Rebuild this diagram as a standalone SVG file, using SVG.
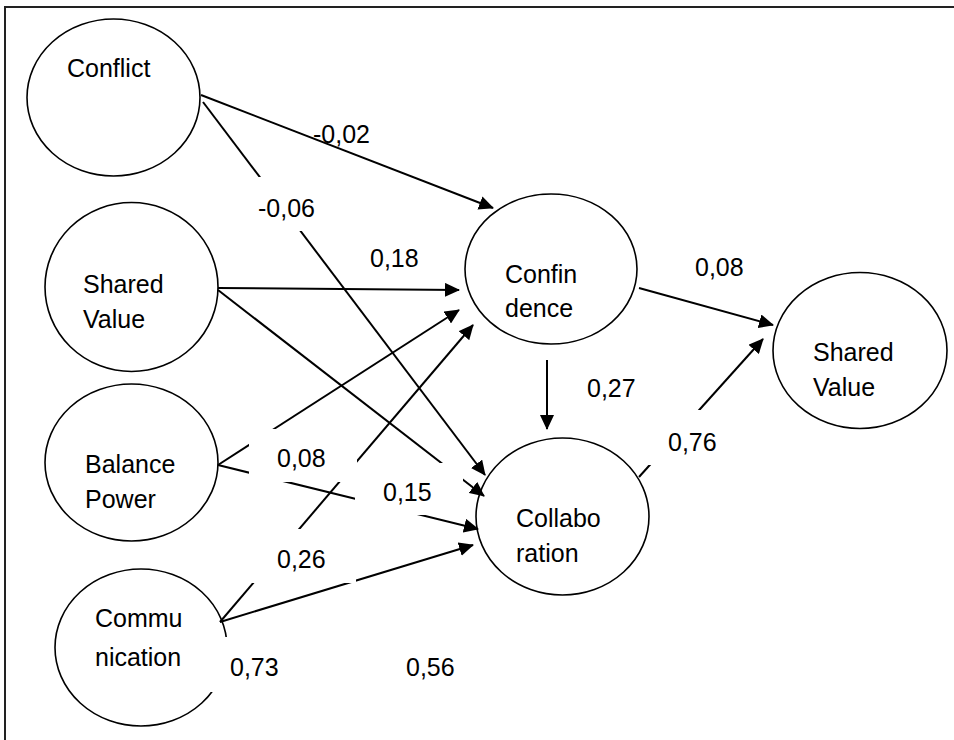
<svg xmlns="http://www.w3.org/2000/svg" width="954" height="740" viewBox="0 0 954 740">
<defs>
<marker id="ah" markerUnits="userSpaceOnUse" markerWidth="15" markerHeight="14" refX="14" refY="7" orient="auto">
<path d="M0,0 L15,7 L0,14 Z" fill="#000"/>
</marker>
<style>
.node{fill:#fff;stroke:#000;stroke-width:1.6}
.t{font-family:"Liberation Sans",Arial,sans-serif;font-size:25px;fill:#000}
.c{stroke:#000;stroke-width:2;fill:none;marker-end:url(#ah)}
.l{stroke:#000;stroke-width:2;fill:none}
.bx{fill:#fff;stroke:none}
</style>
</defs>
<rect x="5" y="7" width="1000" height="800" fill="#fff" stroke="#222" stroke-width="2"/>

<g id="node-conflict">
<ellipse class="node" cx="113.5" cy="97.5" rx="86.5" ry="78.5"/>
<text class="t" x="67" y="77">Conflict</text>
</g>
<g id="node-shared-value-left">
<ellipse class="node" cx="131.5" cy="287" rx="86.5" ry="84.5"/>
<text class="t" x="83" y="293">Shared</text>
<text class="t" x="83" y="328">Value</text>
</g>
<g id="node-balance-power">
<ellipse class="node" cx="131.5" cy="462.5" rx="86.5" ry="78.5"/>
<text class="t" x="85" y="473">Balance</text>
<text class="t" x="85" y="508">Power</text>
</g>
<g id="node-communication">
<ellipse class="node" cx="141" cy="647.5" rx="86" ry="78.5"/>
<text class="t" x="95" y="627">Commu</text>
<text class="t" x="95" y="666">nication</text>
</g>
<g id="node-confidence">
<ellipse class="node" cx="551" cy="269" rx="86" ry="75"/>
<text class="t" x="505" y="283">Confin</text>
<text class="t" x="505" y="317">dence</text>
</g>
<g id="node-collaboration">
<ellipse class="node" cx="562.5" cy="516.5" rx="86.5" ry="78.5"/>
<text class="t" x="516" y="527">Collabo</text>
<text class="t" x="516" y="562">ration</text>
</g>
<g id="node-shared-value-right">
<ellipse class="node" cx="860" cy="350.5" rx="87" ry="78"/>
<text class="t" x="813" y="361">Shared</text>
<text class="t" x="813" y="396">Value</text>
</g>

<g id="connectors">
<line class="c" x1="201" y1="95" x2="493" y2="208"/>
<line class="c" x1="203" y1="102" x2="485" y2="475"/>
<line class="c" x1="218" y1="288" x2="459" y2="290"/>
<line class="c" x1="218" y1="290" x2="484" y2="496"/>
<line class="c" x1="218" y1="465" x2="459" y2="310"/>
<line class="c" x1="218" y1="465" x2="478" y2="529"/>
<line class="c" x1="220" y1="622" x2="473" y2="325"/>
<line class="c" x1="220" y1="622" x2="473" y2="545"/>
<line class="c" x1="547" y1="360" x2="547" y2="429"/>
<line class="c" x1="639" y1="288" x2="773" y2="325"/>
<line class="c" x1="639" y1="477" x2="763" y2="339"/>
</g>

<g id="labels">
<rect class="bx" x="233" y="177" width="108" height="54"/>
<rect class="bx" x="249" y="429" width="108" height="53"/>
<rect class="bx" x="355" y="463" width="108" height="52"/>
<rect class="bx" x="248" y="529" width="108" height="54"/>
<rect class="bx" x="201" y="637" width="108" height="55"/>
<rect class="bx" x="639" y="410" width="108" height="55"/>
<text class="t" x="313" y="143">-0,02</text>
<text class="t" x="258" y="217">-0,06</text>
<text class="t" x="370" y="267">0,18</text>
<text class="t" x="277" y="467">0,08</text>
<text class="t" x="383" y="501">0,15</text>
<text class="t" x="277" y="568">0,26</text>
<text class="t" x="230" y="676">0,73</text>
<text class="t" x="406" y="676">0,56</text>
<text class="t" x="587" y="397">0,27</text>
<text class="t" x="695" y="276">0,08</text>
<text class="t" x="668" y="451">0,76</text>
</g>
</svg>
